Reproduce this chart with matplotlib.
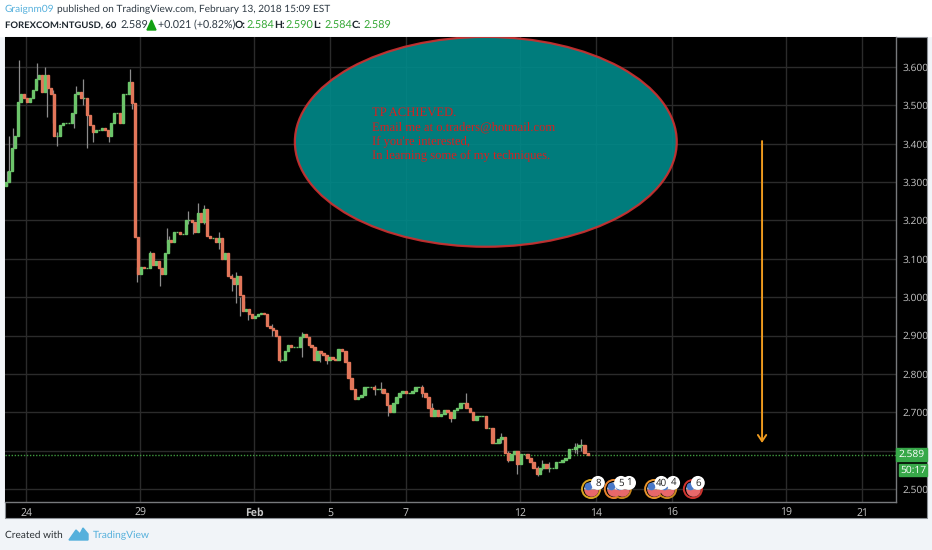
import matplotlib
matplotlib.use("Agg")
import matplotlib.pyplot as plt
import numpy as np
from matplotlib.patches import Ellipse, Rectangle, Polygon

W, H = 932, 550

# closes, first stretch (24 Jan - 5 Feb)
closes_a = [3.30, 3.33, 3.39, 3.42, 3.51, 3.53, 3.52, 3.51, 3.52, 3.54, 3.57, 3.58, 3.535, 3.58,
            3.545, 3.53, 3.42, 3.42, 3.45, 3.455, 3.455, 3.455, 3.48, 3.53, 3.535, 3.52, 3.52,
            3.475, 3.45, 3.43, 3.435, 3.435, 3.44, 3.435, 3.42, 3.455, 3.48, 3.48, 3.455, 3.53,
            3.53, 3.56, 3.505, 3.157, 3.06, 3.08, 3.075, 3.075, 3.115, 3.085, 3.095, 3.075, 3.06,
            3.115, 3.15, 3.145, 3.17, 3.17, 3.165, 3.165, 3.20, 3.20, 3.195, 3.17, 3.22, 3.195,
            3.23, 3.16, 3.155, 3.155, 3.145, 3.155, 3.10, 3.115, 3.055, 3.05, 3.035, 3.055, 3.005,
            2.965, 2.97, 2.955, 2.945, 2.95, 2.955, 2.96, 2.955, 2.925, 2.92, 2.915, 2.90, 2.835,
            2.835, 2.86, 2.875, 2.87, 2.87, 2.87, 2.895, 2.905, 2.895, 2.875, 2.87, 2.835, 2.86,
            2.855, 2.85, 2.835, 2.845, 2.84, 2.835, 2.865]
# closes, second stretch (5 Feb - 14 Feb)
closes_b = [2.86, 2.83, 2.79, 2.76, 2.735, 2.74, 2.745, 2.765, 2.765, 2.765, 2.76, 2.76, 2.76, 2.75,
            2.72, 2.70, 2.725, 2.74, 2.75, 2.755, 2.75, 2.75, 2.755, 2.765, 2.765, 2.75, 2.74,
            2.71, 2.69, 2.705, 2.69, 2.695, 2.705, 2.70, 2.685, 2.705, 2.71, 2.725, 2.725, 2.71,
            2.70, 2.68, 2.69, 2.69, 2.69, 2.66, 2.66, 2.62, 2.62, 2.63, 2.635, 2.595, 2.575, 2.59,
            2.60, 2.565, 2.59, 2.59, 2.58, 2.57, 2.555, 2.54, 2.555, 2.565, 2.555, 2.555, 2.555,
            2.57, 2.57, 2.575, 2.58, 2.605, 2.605, 2.61, 2.615, 2.615, 2.595, 2.589]
first_open = 3.29

wick_day = [-0.5, -0.45, -0.34, -0.18, 0.29, 0.50, 0.55, 0.71, 0.82, 1.26, 1.32, 1.50, 1.61, 1.76, 2.18,
            2.74, 2.79, 2.92, 3.26, 3.53, 3.71, 3.76, 4.26, 4.39, 4.53, 4.68, 5.08, 5.42, 5.53, 5.63,
            5.74, 5.84, 6.47, 6.68, 7.26, 7.74, 7.92, 9.18, 9.34, 9.53, 10.42, 10.68, 11.18, 11.58,
            12.5, 12.68, 12.92, 13.47, 13.58, 13.76, 14.45, 14.5, 14.6]
wick_low = [3.29, 3.33, 3.38, 3.50, 3.55, 3.55, 3.47, 3.455, 3.395, 3.44, 3.53, 3.50, 3.39, 3.405, 3.405,
            3.54, 3.49, 3.04, 3.09, 3.03, 3.14, 3.13, 3.19, 3.165, 3.20, 3.19, 3.125, 3.015, 2.985, 2.95,
            2.97, 2.94, 2.90, 2.83, 2.845, 2.83, 2.825, 2.745, 2.75, 2.69, 2.74, 2.69, 2.675, 2.72,
            2.62, 2.57, 2.54, 2.535, 2.55, 2.545, 2.595, 2.59, 2.60]
wick_high = [3.33, 3.42, 3.44, 3.618, 3.61, 3.60, 3.57, 3.54, 3.43, 3.50, 3.55, 3.57, 3.50, 3.45, 3.43,
             3.595, 3.55, 3.08, 3.12, 3.08, 3.18, 3.16, 3.225, 3.20, 3.245, 3.24, 3.17, 3.06, 3.065, 3.00,
             2.99, 2.96, 2.93, 2.85, 2.91, 2.86, 2.85, 2.77, 2.78, 2.72, 2.77, 2.725, 2.70, 2.75,
             2.645, 2.60, 2.60, 2.56, 2.575, 2.57, 2.62, 2.62, 2.63]

y_ticks = [2.5, 2.6, 2.7, 2.8, 2.9, 3.0, 3.1, 3.2, 3.3, 3.4, 3.5, 3.6]
# 2.600 sits under the last price tag in the original, so no label for it
y_labels = ["2.500", "", "2.700", "2.800", "2.900", "3.000", "3.100", "3.200", "3.300", "3.400", "3.500", "3.600"]
x_ticks = [0, 3, 6, 8, 10, 13, 15, 17, 20, 22]
x_labels = ["24", "29", "Feb", "5", "7", "12", "14", "16", "19", "21"]
last_price = 2.589

# calendar events along the bottom
event_day = [14.87, 15.47, 15.68, 16.53, 16.87, 17.55]
event_ring = ["#d9a520", "#e8842c", "#c9861c", "#e8942c", "#c98a20", "#d0352f"]
badge_day = [15.05, 15.66, 15.87, 16.72, 17.03, 17.68]
badge_text = ["8", "5", "1", "40", "4", "6"]

note_lines = ["TP ACHIEVED.", "Email me at o.traders@hotmail.com", "If you're interested,",
              "In learning some of my techniques."]

UP = "#6cc46a"
DOWN = "#e2765a"
GRID = "#2b2b2b"
LABEL = "#c4c4c4"
BLUE = "#55b0dc"
DARK = "#2e3a44"


def px(x, y):
    return x / W, 1 - y / H


plt.rcParams["font.family"] = ["Lato", "DejaVu Sans"]
plt.rcParams["text.hinting"] = "none"
fig = plt.figure(figsize=(W / 100, H / 100), dpi=100, facecolor="#f1f4f8")

# header band and black chart block
fig.add_artist(Rectangle((0, 1 - 36 / H), 1, 36 / H, transform=fig.transFigure, color="white", zorder=0))
fig.add_artist(Rectangle(px(5, 518), 922 / W, 481 / H, transform=fig.transFigure, facecolor="black",
                         edgecolor="#8a8f94", linewidth=0.8, zorder=0))

ax = fig.add_axes([5 / W, 1 - 502 / H, 891 / W, 465 / H], facecolor="black")
ax.set_xlim((5 - 26) / 38, (896 - 26) / 38)
ax.set_ylim(2.5 - 13 / 383.6, 2.5 + 452 / 383.6)

ax.set_yticks(y_ticks)
ax.set_yticklabels(y_labels, family="Open Sans")
ax.set_xticks(x_ticks)
ax.set_xticklabels(x_labels, family="Open Sans")
ax.yaxis.tick_right()
ax.tick_params(axis="y", colors=LABEL, labelsize=7.4, length=0, pad=5)
ax.tick_params(axis="x", colors=LABEL, labelsize=7.6, length=0, pad=4)
ax.get_xticklabels()[2].set_fontweight("bold")
ax.grid(True, color=GRID, linewidth=1.0, zorder=0)
ax.set_axisbelow(True)
for name, sp in ax.spines.items():
    sp.set_visible(name in ("right", "bottom"))
    sp.set_color("#77797c")
    sp.set_linewidth(1.0)

# candles
days = np.concatenate([-0.526 + 0.0789 * np.arange(len(closes_a)),
                       np.linspace(8.32, 14.79, len(closes_b))])
closes = np.array(closes_a + closes_b)
opens = np.concatenate([[first_open], closes[:-1]])
ax.vlines(wick_day, wick_low, wick_high, color="#8c8c8c", linewidth=0.9, zorder=2)
colors = [UP if c >= o else DOWN for o, c in zip(opens, closes)]
ax.bar(days, np.abs(closes - opens), bottom=np.minimum(opens, closes), width=0.07,
       color=colors, edgecolor=colors, linewidth=1.0, zorder=3)

# last price line
ax.axhline(last_price, color="#3f9a3f", linewidth=1.0, linestyle=(0, (1, 1.2)), zorder=2)

# note ellipse
ax.add_patch(Ellipse((12.1, 3.405), 10.05, 0.547, facecolor="#008a8a", edgecolor="#d03030",
                     linewidth=1.6, alpha=0.9, zorder=4))
for i, line in enumerate(note_lines):
    ax.text(9.1, 3.48 - i * 0.0365, line, color="#d62020", fontsize=9.1, va="center", ha="left",
            family="Liberation Serif", zorder=5)

# target arrow
ax.annotate("", xy=(19.37, 2.62), xytext=(19.37, 3.407),
            arrowprops=dict(arrowstyle="->,head_length=0.45,head_width=0.3", color="#ee9a1e", lw=1.4,
                            shrinkA=0, shrinkB=0), zorder=4)

# event icons
ax.scatter(event_day, [2.5] * len(event_day), s=170, facecolor="black", edgecolor=event_ring,
           linewidth=1.4, zorder=5)
for d in event_day:
    ax.plot([d], [2.5], marker="o", markersize=10.5, fillstyle="bottom", markerfacecolor="#e8686a",
            markerfacecoloralt="#f2f2f2", markeredgewidth=0, zorder=6)
    ax.plot([d - 0.07], [2.508], marker="o", markersize=5.5, color="#4a78c8", markeredgewidth=0, zorder=7)
ax.scatter(badge_day, [2.516] * len(badge_day), s=100, facecolor="white", edgecolor="none", zorder=8)
for d, t in zip(badge_day, badge_text):
    ax.text(d, 2.516, t, color="#222222", fontsize=7, ha="center", va="center", family="Open Sans", zorder=9)

# price tags on the axis
fig.add_artist(Rectangle(px(896, 461), 31 / W, 13 / H, transform=fig.transFigure, color="#37a849", zorder=3))
fig.add_artist(Rectangle(px(899, 476), 28 / W, 12 / H, transform=fig.transFigure, color="#37a849", zorder=3))
fig.text(*px(912, 454.5), "2.589", color="white", fontsize=7.4, ha="center", va="center",
         family="Open Sans", zorder=4)
fig.text(*px(913, 470), "50:17", color="white", fontsize=7.4, ha="center", va="center",
         family="Open Sans", zorder=4)

# header
fig.text(*px(5, 9.5), "Graignm09", color=BLUE, fontsize=7.3, va="center")
fig.text(*px(57, 9.5), "published on TradingView.com, February 13, 2018 15:09 EST", color=DARK,
         fontsize=7.3, va="center")
fig.text(*px(5, 25.5), "FOREXCOM:NTGUSD, 60", color="#1c252c", fontsize=6.8, fontweight="bold", va="center")
fig.text(*px(120, 25.5), "2.589", color=DARK, fontsize=7.8, va="center")
fig.add_artist(Polygon([px(147, 30), px(156, 30), px(151.5, 20)], transform=fig.transFigure,
                       color="#12a012"))
fig.text(*px(158, 25.5), "+0.021 (+0.82%)", color=DARK, fontsize=7.7, va="center")
header_x = [235, 274, 313, 352]
header_k = ["O:", "H:", "L:", "C:"]
header_v = ["2.584", "2.590", "2.584", "2.589"]
for x, k, v in zip(header_x, header_k, header_v):
    fig.text(*px(x, 25.5), k, color="#1c252c", fontsize=7.4, fontweight="bold", va="center")
    fig.text(*px(x + 11, 25.5), v, color="#35a835", fontsize=7.8, va="center")

# footer
fig.text(*px(5, 535), "Created with", color="#2a2f33", fontsize=7.3, va="center")
fig.add_artist(Polygon([px(69, 540), px(76, 530), px(80, 534), px(83, 528), px(88, 534), px(88, 540)],
                       transform=fig.transFigure, color=BLUE))
fig.text(*px(93, 535), "TradingView", color=BLUE, fontsize=7.4, va="center")

fig.savefig("out.png", dpi=100, facecolor=fig.get_facecolor())
